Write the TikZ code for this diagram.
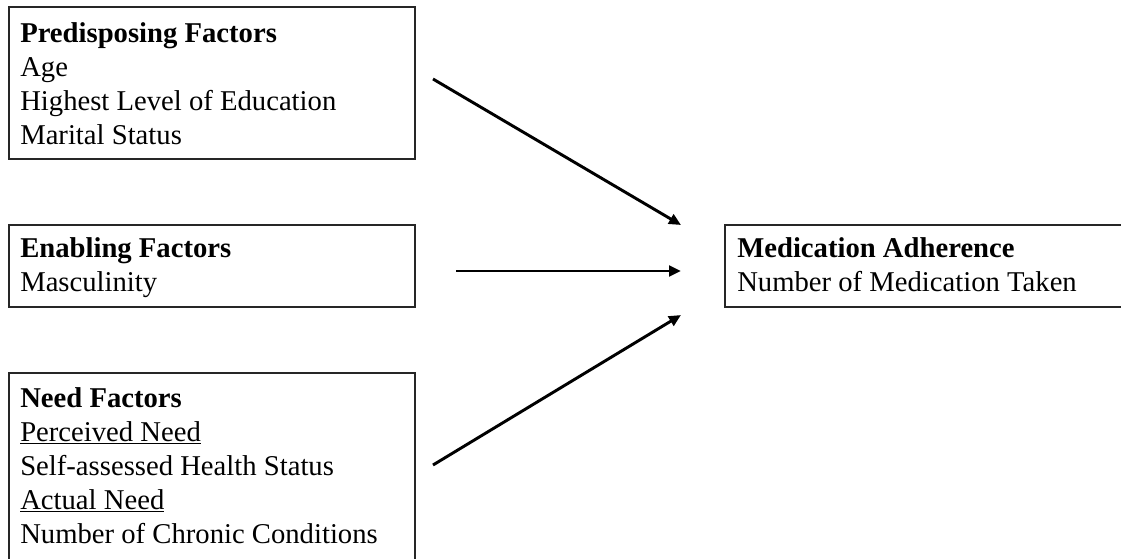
\documentclass[tikz,border=0pt]{standalone}
\usepackage{fontspec}
\setmainfont{Liberation Serif}
\usetikzlibrary{arrows.meta}
\tikzset{
  boxstyle/.style={draw=black!85, line width=1.2pt, anchor=north west, inner sep=0pt, outer sep=0pt},
  txt/.style={anchor=base west, align=left, inner sep=0pt, font=\fontsize{21.5pt}{25.5pt}\selectfont},
  arr/.style={draw=black, line width=2.2pt, -{Triangle[length=9pt,width=8pt]}}
}
\begin{document}
\begin{tikzpicture}[x=0.75pt,y=-0.75pt]
\useasboundingbox (0,0) rectangle (1121,558);
% boxes
\node[boxstyle, minimum width=406*0.75pt, minimum height=152*0.75pt] (pre) at (9,7) {};
\node[boxstyle, minimum width=406*0.75pt, minimum height=82*0.75pt] (ena) at (9,225) {};
\node[boxstyle, minimum width=406*0.75pt, minimum height=190*0.75pt] (nee) at (9,373) {};
\node[boxstyle, minimum width=400*0.75pt, minimum height=82*0.75pt] (med) at (725,225) {};
% texts (anchored at the baseline of the last line)
\node[txt] (pretxt) at (20,144) {\textbf{Predisposing Factors}\\Age\\Highest Level of Education\\Marital Status};
\node[txt] (enatxt) at (20,291) {\textbf{Enabling Factors}\\Masculinity};
\node[txt] (neetxt) at (20,543) {\textbf{Need Factors}\\\underline{Perceived Need}\\Self-assessed Health Status\\\underline{Actual Need}\\Number of Chronic Conditions};
\node[txt] (medtxt) at (737,291) {\textbf{Medication Adherence}\\Number of Medication Taken};
% arrow ends
\coordinate (a1s) at (433,79);
\coordinate (a1e) at (681,225);
\coordinate (a2s) at (456,271);
\coordinate (a2e) at (681,271);
\coordinate (a3s) at (433,465);
\coordinate (a3e) at (681,315);
\draw[arr] (a1s) -- (a1e);
\draw[arr] (a2s) -- (a2e);
\draw[arr] (a3s) -- (a3e);
\end{tikzpicture}
\end{document}
